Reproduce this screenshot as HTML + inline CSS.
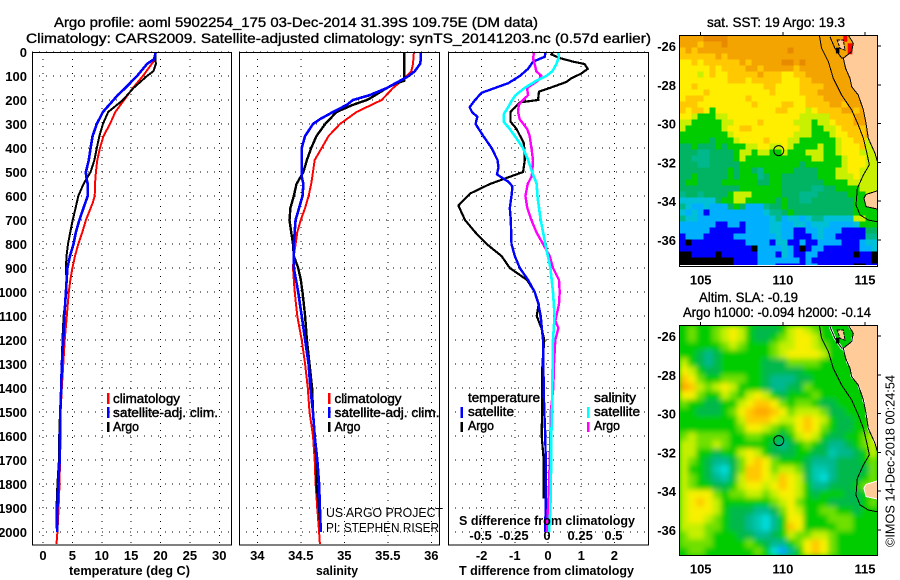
<!DOCTYPE html>
<html>
<head>
<meta charset="utf-8">
<style>
html,body{margin:0;padding:0;background:#fff;}
svg{display:block;}
text{font-family:"Liberation Sans",sans-serif;fill:#000;}
.b{font-size:13px;font-weight:bold;}
.t{font-size:14px;stroke:#000;stroke-width:.35px;}
.l{font-size:13px;stroke:#000;stroke-width:.45px;}
.n{font-size:13px;}
</style>
</head>
<body>
<svg id="chart" width="900" height="580" viewBox="0 0 900 580" xmlns="http://www.w3.org/2000/svg">
<defs>
<clipPath id="clipT"><rect x="32" y="52" width="199" height="493"/></clipPath>
<clipPath id="clipS"><rect x="239" y="52" width="200" height="493"/></clipPath>
<clipPath id="clipD"><rect x="448" y="52" width="200" height="493"/></clipPath>
<clipPath id="clipM1"><rect x="679.5" y="35.5" width="198" height="229.500"/></clipPath>
<clipPath id="clipM2"><rect x="679.5" y="325.5" width="198" height="230"/></clipPath>
<filter id="soft" x="-10%" y="-10%" width="120%" height="120%"><feGaussianBlur stdDeviation="2.6"/></filter>
</defs>
<rect x="0" y="0" width="900" height="580" fill="#fff"/>
<text class="t" x="54" y="27" textLength="484" lengthAdjust="spacingAndGlyphs">Argo profile: aoml 5902254_175 03-Dec-2014 31.39S 109.75E (DM data)</text>
<text class="t" x="26" y="43" textLength="625" lengthAdjust="spacingAndGlyphs">Climatology: CARS2009. Satellite-adjusted climatology: synTS_20141203.nc (0.57d earlier)</text>
<g id="layer"></g>
<g id="labels">
<text class="b" x="69" y="575" textLength="121" lengthAdjust="spacingAndGlyphs">temperature (deg C)</text>
<text class="b" x="316" y="575" textLength="42" lengthAdjust="spacingAndGlyphs">salinity</text>
<text class="b" x="459" y="575" textLength="175" lengthAdjust="spacingAndGlyphs">T difference from climatology</text>
<text class="b" x="459" y="525" textLength="176" lengthAdjust="spacingAndGlyphs">S difference from climatology</text>

<rect x="107" y="393" width="2.5" height="11" fill="#f00"/>
<rect x="107" y="407" width="2.5" height="11" fill="#00f"/>
<rect x="107" y="422" width="2.5" height="10" fill="#000"/>
<text class="l" x="113" y="403" textLength="67" lengthAdjust="spacingAndGlyphs">climatology</text>
<text class="l" x="113" y="417" textLength="105" lengthAdjust="spacingAndGlyphs">satellite-adj. clim.</text>
<text class="l" x="113" y="431" textLength="26" lengthAdjust="spacingAndGlyphs">Argo</text>

<rect x="328" y="393" width="2.5" height="11" fill="#f00"/>
<rect x="328" y="407" width="2.5" height="11" fill="#00f"/>
<rect x="328" y="422" width="2.5" height="10" fill="#000"/>
<text class="l" x="334.500" y="403" textLength="67" lengthAdjust="spacingAndGlyphs">climatology</text>
<text class="l" x="334.500" y="417" textLength="105" lengthAdjust="spacingAndGlyphs">satellite-adj. clim.</text>
<text class="l" x="334.500" y="431" textLength="26" lengthAdjust="spacingAndGlyphs">Argo</text>

<text class="n" x="326" y="517" textLength="117" lengthAdjust="spacingAndGlyphs">US ARGO PROJECT</text>
<text class="n" x="326" y="532" textLength="113" lengthAdjust="spacingAndGlyphs">PI: STEPHEN RISER</text>

<text class="l" x="468" y="402" textLength="72" lengthAdjust="spacingAndGlyphs">temperature</text>
<rect x="460.500" y="407" width="2.5" height="11" fill="#00f"/>
<rect x="460.500" y="422" width="2.5" height="10" fill="#000"/>
<text class="l" x="468" y="416" textLength="46" lengthAdjust="spacingAndGlyphs">satellite</text>
<text class="l" x="468" y="430" textLength="26" lengthAdjust="spacingAndGlyphs">Argo</text>
<text class="l" x="594" y="402" textLength="42" lengthAdjust="spacingAndGlyphs">salinity</text>
<rect x="587" y="407" width="2.5" height="11" fill="#0ff"/>
<rect x="587" y="422" width="2.5" height="10" fill="#f0f"/>
<text class="l" x="594" y="416" textLength="46" lengthAdjust="spacingAndGlyphs">satellite</text>
<text class="l" x="594" y="430" textLength="26" lengthAdjust="spacingAndGlyphs">Argo</text>

<text class="t" x="707" y="27" textLength="138" lengthAdjust="spacingAndGlyphs">sat. SST: 19 Argo: 19.3</text>
<text class="t" x="699" y="302" textLength="99" lengthAdjust="spacingAndGlyphs">Altim. SLA: -0.19</text>
<text class="t" x="683" y="317" textLength="188" lengthAdjust="spacingAndGlyphs">Argo h1000: -0.094 h2000: -0.14</text>
<text class="n" transform="translate(894.500,547) rotate(-90)" x="0" y="0" textLength="172" lengthAdjust="spacingAndGlyphs">©IMOS 14-Dec-2018 00:24:54</text>
</g>
</svg>
<script>
// ---------- profile data ----------
const depthTicks = [0,100,200,300,400,500,600,700,800,900,1000,1100,1200,1300,1400,1500,1600,1700,1800,1900,2000];
const tempTicks = [0,5,10,15,20,25,30];
const salTicks = [34,34.5,35,35.5,36];
const salTickLabels = ['34','34.5','35','35.5','36'];
const tDiffTicks = [-2,-1,0,1,2];
const sDiffTicks = [-0.5,-0.25,0,0.25,0.5];
const sDiffTickLabels = ['-0.5','-0.25','0','0.25','0.5'];
const latTicks = [26,28,30,32,34,36];
const lonTicks = [105,110,115];

const climTempDepth = [0,30,50,100,150,200,250,300,350,400,450,500,550,600,630,700,750,800,850,900,950,1000,1100,1200,1300,1400,1500,1600,1700,1800,1900,2000,2050];
const climTemp = [19.2,19.1,18.5,17,15.3,13.8,12.3,11.4,10.3,9.7,9.25,9,8.85,8.8,8.45,7.3,6.7,6,5.45,5,4.65,4.4,4.05,3.7,3.45,3.2,3,3,2.9,2.8,2.65,2.45,2.3];
const argoTempDepth = [0,50,80,100,150,200,250,300,350,400,450,500,550,600,650,700,750,800,850,900,950,1000,1100,1200,1300,1400,1500,1600,1700,1800,1900,2000];
const argoTemp = [19.15,19.2,18.8,17.7,15.4,13.6,11.1,10.2,9.6,9.15,8.75,8.1,6.9,6.0,5.55,5.05,4.65,4.25,4.0,3.9,4.0,4.0,3.5,3.3,3.2,3.05,2.9,2.75,2.7,2.45,2.3,2.35];
const satTempDepth = [0,30,50,100,150,180,200,250,300,350,400,450,500,520,550,600,650,700,750,800,850,900,1000,1100,1200,1300,1400,1500,1600,1700,1800,1900,2000];
const satTemp = [19.2,18.9,17.7,16,14,12.7,12,10.2,9.15,8.45,8.1,7.8,7.3,7.35,7.6,7.6,6.9,6.2,5.6,5.2,4.6,4.15,3.9,3.65,3.45,3.2,3.1,2.95,2.9,2.85,2.6,2.45,2.4];

const climSalDepth = [0,50,80,120,150,200,250,300,350,400,450,500,550,600,650,700,750,800,850,900,1000,1100,1200,1300,1400,1500,1600,1700,1800,1900,2000,2050];
const climSal = [35.8,35.79,35.77,35.66,35.56,35.43,35.14,34.95,34.82,34.74,34.66,34.64,34.62,34.59,34.55,34.5,34.46,34.44,34.42,34.41,34.43,34.46,34.51,34.55,34.58,34.6,34.64,34.66,34.67,34.69,34.71,34.72];
const argoSalDepth = [0,100,120,130,150,190,200,220,250,300,350,400,450,500,550,600,650,700,750,800,850,900,950,1000,1100,1150,1200,1300,1400,1500,1600,1700,1800,1900,2000];
const argoSal = [35.69,35.69,35.69,35.6,35.49,35.31,35.26,35.1,34.91,34.78,34.68,34.62,34.57,34.53,34.45,34.42,34.38,34.37,34.39,34.41,34.42,34.47,34.5,34.52,34.55,34.56,34.57,34.6,34.63,34.64,34.66,34.68,34.68,34.71,34.73];
const satSalDepth = [0,30,50,80,100,120,150,180,200,220,250,280,300,350,400,450,500,520,550,600,650,700,750,800,850,900,1000,1100,1200,1300,1400,1500,1600,1700,1800,1900,2000];
const satSal = [35.88,35.88,35.87,35.81,35.74,35.64,35.49,35.29,35.1,35.03,34.87,34.72,34.64,34.55,34.51,34.51,34.51,34.51,34.53,34.52,34.48,34.44,34.43,34.42,34.42,34.42,34.47,34.51,34.55,34.59,34.61,34.64,34.66,34.69,34.71,34.72,34.73];

const argoDTDepth = [0,10,25,40,50,70,90,110,125,150,165,200,210,250,290,320,380,450,500,520,550,590,640,700,750,800,850,900,950,1000,1050,1100,1150,1200,1300,1400,1500,1600,1700,1800,1860];
const argoDT = [.15,.1,.35,.75,1.1,1.2,1,.7,.55,.05,-.27,-.3,-.85,-1.13,-1.13,-.95,-.73,-.7,-.75,-1.15,-1.75,-2.35,-2.7,-2.5,-2.2,-1.85,-1.4,-1.15,-.63,-.4,-.28,-.34,-.2,-.11,-.17,-.18,-.18,-.19,-.13,-.13,-.13];
const satDTDepth = [0,20,40,70,100,130,150,170,200,230,250,270,300,350,400,450,480,510,540,560,600,650,700,800,850,900,950,1000,1050,1100,1200,1300,1400,1500,1600,1700,1800,1900,2000];
const satDT = [-.07,-.1,-.45,-.6,-.85,-1.2,-1.6,-2,-2.2,-2.36,-2.29,-2.13,-2.18,-1.95,-1.7,-1.52,-1.49,-1.54,-1.2,-1.07,-1.1,-1.15,-1.12,-1.1,-1,-.85,-.6,-.4,-.29,-.22,-.15,-.14,-.13,-.11,-.08,-.07,-.07,-.07,-.09];
const argoDSDepth = [0,30,50,80,100,120,150,180,200,220,250,280,320,350,400,450,500,520,550,600,650,700,750,800,850,900,950,1000,1050,1100,1120,1150,1200,1300,1400,1500,1600,1700,1800,1900,2000];
const argoDS = [-.105,-.113,-.1,-.088,-.05,-.075,-.158,-.15,-.188,-.22,-.226,-.213,-.158,-.138,-.125,-.113,-.118,-.125,-.153,-.17,-.156,-.125,-.088,-.038,.013,.038,.083,.088,.083,.063,.055,.078,.055,.045,.04,.02,.018,.013,.008,0,-.008];
const satDSDepth = [0,20,50,80,100,120,150,180,200,230,260,290,320,350,400,450,500,550,600,700,800,900,1000,1100,1200,1300,1400,1500,1600,1700,1800,1900,2000];
const satDS = [.075,.083,.063,.033,-.013,-.088,-.176,-.244,-.27,-.3,-.334,-.334,-.289,-.25,-.188,-.15,-.12,-.085,-.08,-.055,-.02,.018,.038,.05,.038,.035,.033,.03,.025,.025,.02,.018,.008];

// ---------- map data (colour-class per grid cell) ----------
const sstRows = [
"aaaabbbbaaaaaaaaaaaaaaaaaaaaaaaaa",
"aaa9aaabaaaaaaaaaaaaaaaaaaaaaaaaa",
"9a9aaaaaaaaaaaaaaabaaaaaaaaaaaaaa",
"999999a9aaaaaaaaaaaaaaaaaaaaaaaaa",
"8898999999a9aaaaabbabaaaaaaaaaaaa",
"88888989999aa9aaaaa9aaaaaaaaaaaaa",
"8887898899999a9998899aaaaaaaaaaaa",
"8888888899989999988899aaaaaaaaaaa",
"889888888888889988889999aaaaaaaaa",
"88889888888888898888999aaaaaaaaaa",
"899988888889888888888999aaaaaaaaa",
"9998888888889888899889999aa9aaaaa",
"989986888888888899888789999aa9aaa",
"887666778888888888887777799 99aaaa".replace(' ',''),
"77666667788889888887776778999aaaa",
"76666667889988888888776677899 99aa".replace(' ',''),
"66666666788888888887776667889 99aa".replace(' ',''),
"66666566678888988877666666788 9977".replace(' ',''),
"55655565666778877876666766788 8977".replace(' ',''),
"55544555567767766766677766788 8777".replace(' ',''),
"55444555567666666666667766678 8877".replace(' ',''),
"55544555556666666666566666678 8877".replace(' ',''),
"55555555656654666665555666778 8777".replace(' ',''),
"55655555656664566555555666777 8777".replace(' ',''),
"56655556666665566555555566667 777".replace(' ','')+"7",
"55555555556666666555554455666 6777".replace(' ',''),
"45545555677766666555444555556 6677".replace(' ',''),
"33333356677666665655445555555 6677".replace(' ',''),
"43223222565222455655555555555 6666".replace(' ',''),
"32321222222222344565555555555 6666".replace(' ',''),
"43322222222222234233234433333 7766".replace(' ',''),
"22222211221222233223323332222 3666".replace(' ',''),
"22222111111222233221122322211 1155".replace(' ',''),
"12221111122222223221112322111 1144".replace(' ',''),
"10111111111222213311211222211 1233".replace(' ',''),
"11111111111102222321012211111 1223".replace(' ',''),
"00111101111112221321122111111 0110".replace(' ',''),
"00000000011112222222121111111 1110".replace(' ',''),
"00000000011112221111122111111 0011".replace(' ','')
];
const slaRows = [
"565567875444578765555555 5".replace(' ','').slice(0,24),
"565567875445678875555555",
"555556765556778876555555",
"554345555556788887555555",
"754345555544466665555555",
"875445555544444555555555",
"986556665543334455555555",
"a97678755543344655555555",
"886557657875455565555555",
"655445578998656654455556",
"554445689aa9867776445556",
"555555579998778987544556",
"555555568876568986544556",
"676666556655457875445567",
"776676555554345654334567",
"775545578754445544233457",
"765433468986555433344456",
"755421469986776422344446",
"765432479987987421344456",
"765544578878987533444566",
"788865667767887545554455",
"789875555556786555444456",
"788875444334687556655455",
"788765443213588555666555",
"777665443213598555566555",
"677655544334576677655555",
"666655556543356898655555",
"566555555651035898655555"
];
const coastLon = [113.98,114.29,114.19,113.68,113.82,114.09,114.19,114.59,114.9,115.06,115.2,115.61,115.75];
const coastLat = [25.43,25.86,26.29,26.63,27.15,27.67,28.1,28.53,29.3,29.98,30.76,31.53,31.93];
const bayLon = [115.75,115.06,114.94,115.06,115.75];
const bayLat = [33.47,33.65,33.85,34.28,34.4];
const shelfLon = [112.22,112.36,112.77,113.07,113.58,114.19,114.59,114.9,115.14,115.26,114.9,114.53,114.45,114.7,115.2,115.75];
const shelfLat = [25.43,26.12,26.81,27.67,28.53,29.3,30.07,30.76,31.62,32.13,32.65,33.34,34.2,34.71,34.97,35.06];
const bayOutlineLon = [112.87,113.17,113.58,113.68];
const bayOutlineLat = [25.52,26.12,26.63,26.63];
const isletLon = [113.31,113.68,113.78,113.48];
const isletLat = [25.69,25.69,26.21,26.12];
const blobLon = [113.23,113.44,113.44,113.23];
const blobLat = [26.09,26.09,26.38,26.38];
const redNorthLon = [113.68,113.92,113.92,113.68];
const redNorthLat = [25.43,25.43,25.78,25.78];
const redSouthLon = [113.95,114.23,114.23,113.95];
const redSouthLat = [25.86,25.86,26.43,26.43];
const profileLon = 109.75;
const profileLat = 31.39;

// ---------- palettes ----------
const sstPalette = {'0':'#000000','1':'#0000ff','2':'#00b0ff','3':'#00c0d8','4':'#00b88c','5':'#00b464','6':'#00cc00','7':'#c8f000','8':'#ffee00','9':'#ffc800','a':'#f4a400','b':'#e88a00'};
const slaPalette = {'0':'#00a8ff','1':'#00dcdc','2':'#00c8b0','3':'#00b890','4':'#00b84c','5':'#00cc00','6':'#70e000','7':'#c4f000','8':'#f8f000','9':'#ffc800','a':'#ffa800'};

// ---------- axis functions ----------
const yDepth = d => 52 + d * 0.24;
const xTemp = v => 43 + v * 5.875;
const xSal = v => 257.3 + (v - 34) * 87;
const xDT = v => 548 + v * 33.2;
const xDS = v => 548 + v * 132.8;
const xLon = lon => 700.7 + (lon - 105) * 16.43;
const yLatTop = lat => 46 + (lat - 26) * 19.4;
const yLatBot = lat => 336 + (lat - 26) * 19.4;

const layer = document.getElementById('layer');
const NS = 'http://www.w3.org/2000/svg';
function el(tag, attrs, parent) {
  const e = document.createElementNS(NS, tag);
  for (const k in attrs) e.setAttribute(k, attrs[k]);
  (parent || layer).appendChild(e);
  return e;
}
function geoPts(lons, lats, yLat) {
  return lons.map((lon, i) => xLon(lon).toFixed(1) + ',' + yLat(lats[i]).toFixed(1)).join(' ');
}

function drawPanel(name, left, right, xTicks, xFn, labels) {
  const g = el('g', {});
  
  
  depthTicks.forEach(d => {
    const gl = el('line', {x1:left, x2:right, y1:yDepth(d), y2:yDepth(d), stroke:'#000', 'stroke-width':1, 'stroke-dasharray':'1 6', 'shape-rendering':'crispEdges'}, g);
    
    
  });
  xTicks.forEach((v, i) => {
    const x = xFn(v);
    const gl = el('line', {x1:x, x2:x, y1:52, y2:545, stroke:'#000', 'stroke-width':1, 'stroke-dasharray':'1 6', 'shape-rendering':'crispEdges'}, g);
    
    
    const t = el('text', {x:x, y:560, 'text-anchor':'middle', class:'b'}, g);
    
    
    t.textContent = labels[i];
  });
  return g;
}
function drawFrame(name, left, right) {
  const f = el('rect', {x:left + .5, y:52.5, width:right - left, height:492.5, fill:'none', stroke:'#000', 'stroke-width':1, 'shape-rendering':'crispEdges'});
  
  
}
function drawSeries(name, depths, values, xFn, color, width, clipId) {
  const pts = values.map((v, i) => xFn(v).toFixed(1) + ',' + yDepth(depths[i]).toFixed(1)).join(' ');
  const p = el('polyline', {points:pts, fill:'none', stroke:color, 'stroke-width':width, 'clip-path':'url(#' + clipId + ')', 'shape-rendering':'crispEdges', 'stroke-linejoin':'round'});
  
  
}

// ---- temperature panel ----
drawPanel('temperature', 32, 231, tempTicks, xTemp, tempTicks);
depthTicks.forEach(d => {
  const t = el('text', {x:27, y:yDepth(d) + 5, 'text-anchor':'end', class:'b'});
  
  
  t.textContent = d;
});
drawSeries('climatology-temperature-line', climTempDepth, climTemp, xTemp, '#f00', 2, 'clipT');
drawSeries('argo-temperature-line', argoTempDepth, argoTemp, xTemp, '#000', 2, 'clipT');
drawSeries('satellite-temperature-line', satTempDepth, satTemp, xTemp, '#00f', 2.6, 'clipT');
drawFrame('temperature', 32, 231);

// ---- salinity panel ----
drawPanel('salinity', 239, 439, salTicks, xSal, salTickLabels);
drawSeries('climatology-salinity-line', climSalDepth, climSal, xSal, '#f00', 2, 'clipS');
drawSeries('argo-salinity-line', argoSalDepth, argoSal, xSal, '#000', 2.4, 'clipS');
drawSeries('satellite-salinity-line', satSalDepth, satSal, xSal, '#00f', 2.6, 'clipS');
drawFrame('salinity', 239, 439);

// ---- difference panel ----
drawPanel('difference', 448, 648, tDiffTicks, xDT, tDiffTicks);
sDiffTicks.forEach((v, i) => {
  const t = el('text', {x:xDS(v) - 1, y:540, 'text-anchor':'middle', class:'b'});
  
  
  t.textContent = sDiffTickLabels[i];
});
drawSeries('argo-t-difference-line', argoDTDepth, argoDT, xDT, '#000', 2.2, 'clipD');
drawSeries('satellite-t-difference-line', satDTDepth, satDT, xDT, '#00f', 2.4, 'clipD');
drawSeries('argo-s-difference-line', argoDSDepth, argoDS, xDS, '#f0f', 2.4, 'clipD');
drawSeries('satellite-s-difference-line', satDSDepth, satDS, xDS, '#0ff', 2.6, 'clipD');
drawFrame('difference', 448, 648);

// ---- maps ----
function drawMapFurniture(name, yLat, top, bottom, clipId, isSla) {
  const g = el('g', {'clip-path':'url(#' + clipId + ')'});
  
  

  const land = geoPts(coastLon, coastLat, yLat) + ' ' + xLon(116.5) + ',' + yLat(coastLat[coastLat.length - 1]) + ' ' + xLon(116.5) + ',' + yLat(25) + ' ' + xLon(coastLon[0]) + ',' + yLat(25);
  const lp = el('polygon', {points:land, fill:'#ffcc99'}, g);
  
  

  const bp = el('polygon', {points:geoPts(bayLon, bayLat, yLat), fill:'#ffcc99'}, g);
  
  

  const baySegs = geoPts(bayOutlineLon, bayOutlineLat, yLat);
  if (isSla) {
    const cw = el('polyline', {points:geoPts(coastLon, coastLat, yLat), fill:'none', stroke:'#fff', 'stroke-width':2, 'stroke-dasharray':'5 9', 'shape-rendering':'crispEdges'}, g);
    
    
    const cw2 = el('polyline', {points:baySegs, fill:'none', stroke:'#fff', 'stroke-width':2.5}, g);
    
    
  } else {
    [[redNorthLon, redNorthLat], [redSouthLon, redSouthLat]].forEach(a => {
      const red = el('polygon', {points:geoPts(a[0], a[1], yLat), fill:'#f00'}, g);
      
      
    });
  }
  const islet = el('polygon', {points:geoPts(isletLon, isletLat, yLat), fill:'#ffcc99', stroke:'#000', 'stroke-width':1, 'stroke-dasharray':'3 1'}, g);
  
  
  const blob = el('polygon', {points:geoPts(blobLon, blobLat, yLat), fill:'#000'}, g);
  
  

  const cl = el('polyline', {points:geoPts(coastLon, coastLat, yLat), fill:'none', stroke:'#000', 'stroke-width':1, 'shape-rendering':'crispEdges'}, g);
  
  
  const bo = el('polyline', {points:baySegs, fill:'none', stroke:'#000', 'stroke-width':1, 'shape-rendering':'crispEdges'}, g);
  
  
  const bc = el('polyline', {points:geoPts(bayLon, bayLat, yLat), fill:'none', stroke:isSla ? '#fff' : '#000', 'stroke-width':1, 'shape-rendering':'crispEdges'}, g);
  
  
  const sh = el('polyline', {points:geoPts(shelfLon, shelfLat, yLat), fill:'none', stroke:'#000', 'stroke-width':1, 'shape-rendering':'crispEdges'}, g);
  
  

  const frame = el('rect', {x:679.5, y:top + .5, width:198, height:bottom - top, fill:'none', stroke:'#000', 'stroke-width':1, 'shape-rendering':'crispEdges'});
  
  

  const cx = el('circle', {cx:xLon(profileLon), cy:yLat(profileLat), r:5, fill:'none', stroke:'#000', 'stroke-width':1});
  
  

  latTicks.forEach(lat => {
    const y = yLat(lat);
    const tk = el('line', {x1:878, x2:881, y1:y, y2:y, stroke:'#000', 'stroke-width':1, 'shape-rendering':'crispEdges'});
    
    
    const t = el('text', {x:676, y:y + 5, 'text-anchor':'end', class:'b'});
    
    
    t.textContent = '-' + lat;
  });
  lonTicks.forEach(lon => {
    const x = xLon(lon);
    const tk = el('line', {x1:x, x2:x, y1:top - 3, y2:top, stroke:'#000', 'stroke-width':1, 'shape-rendering':'crispEdges'});
    
    
    const t = el('text', {x:x, y:bottom + 18.5, 'text-anchor':'middle', class:'b'});
    
    
    t.textContent = lon;
  });
}

// SST heatmap
const sstGroup = el('g', {'clip-path':'url(#clipM1)'});


sstRows.forEach((row, r) => {
  for (let c = 0; c < row.length; c++) {
    const cell = el('rect', {x:679.5 + c * 6, y:35.5 + r * 6, width:6.2, height:6.2, fill:sstPalette[row[c]], 'shape-rendering':'crispEdges'}, sstGroup);
    
    
  }
});
drawMapFurniture('sst-map', yLatTop, 35, 266, 'clipM1', false);

// SLA heatmap
const slaClip = el('g', {'clip-path':'url(#clipM2)'});


const slaBack = el('rect', {x:679.5, y:325.5, width:198, height:230, fill:'#00cc00'}, slaClip);


const slaGroup = el('g', {filter:'url(#soft)'}, slaClip);


slaRows.forEach((row, r) => {
  for (let c = 0; c < row.length; c++) {
    const cell = el('rect', {x:679.5 + c * 8.25, y:325.5 + r * 8.22, width:8.5, height:8.5, fill:slaPalette[row[c]]}, slaGroup);
    
    
  }
});
drawMapFurniture('sla-map', yLatBot, 325, 555, 'clipM2', true);

document.getElementById('chart').appendChild(document.getElementById('labels'));
</script>
</body>
</html>
